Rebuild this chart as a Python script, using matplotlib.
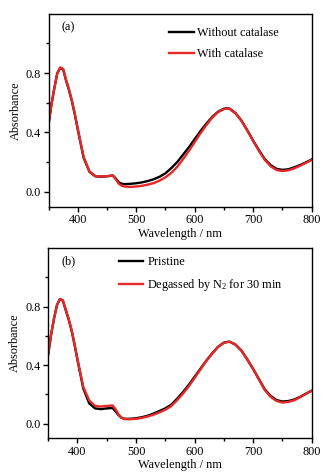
import matplotlib
matplotlib.use("Agg")
import matplotlib.pyplot as plt
from matplotlib.ticker import MultipleLocator

plt.rcParams["font.family"] = ["Liberation Serif", "DejaVu Serif"]
plt.rcParams["mathtext.fontset"] = "custom"
plt.rcParams["mathtext.rm"] = "Liberation Serif"
plt.rcParams["mathtext.it"] = "Liberation Serif:italic"
plt.rcParams["font.size"] = 8.8

# Wavelength grid (nm)
wl = [350, 355, 360, 365, 370, 375, 380, 385, 390, 395, 400, 410, 420, 430,
      440, 450, 460, 465, 470, 475, 480, 490, 500, 510, 520, 530, 540, 550,
      560, 570, 580, 590, 600, 610, 620, 630, 640, 650, 655, 660, 670, 680,
      690, 700, 710, 720, 730, 740, 750, 760, 770, 780, 790, 800]

# (a) without / with catalase
a_without = [0.455, 0.59, 0.70, 0.80, 0.835, 0.825, 0.75, 0.685, 0.61, 0.52,
             0.42, 0.23, 0.135, 0.105, 0.102, 0.105, 0.11, 0.09, 0.065, 0.055,
             0.052, 0.054, 0.058, 0.064, 0.073, 0.085, 0.102, 0.125, 0.16, 0.20,
             0.25, 0.30, 0.355, 0.41, 0.46, 0.505, 0.54, 0.56, 0.563, 0.56,
             0.53, 0.48, 0.415, 0.345, 0.28, 0.22, 0.18, 0.155, 0.148, 0.152,
             0.165, 0.18, 0.198, 0.218]
a_with = [0.455, 0.59, 0.70, 0.80, 0.838, 0.828, 0.755, 0.69, 0.615, 0.525,
          0.425, 0.235, 0.138, 0.106, 0.103, 0.106, 0.11, 0.085, 0.055, 0.042,
          0.036, 0.033, 0.036, 0.041, 0.049, 0.059, 0.076, 0.098, 0.128, 0.168,
          0.22, 0.275, 0.335, 0.395, 0.45, 0.50, 0.537, 0.558, 0.561, 0.558,
          0.528, 0.478, 0.413, 0.343, 0.275, 0.215, 0.172, 0.147, 0.14, 0.145,
          0.158, 0.175, 0.195, 0.215]

# (b) pristine / degassed by N2
b_pristine = [0.475, 0.61, 0.72, 0.81, 0.85, 0.84, 0.775, 0.71, 0.635, 0.54,
              0.435, 0.24, 0.14, 0.105, 0.10, 0.105, 0.108, 0.085, 0.06, 0.042,
              0.034, 0.034, 0.038, 0.045, 0.055, 0.07, 0.087, 0.105, 0.13, 0.17,
              0.215, 0.265, 0.32, 0.375, 0.43, 0.48, 0.525, 0.553, 0.558, 0.56,
              0.54, 0.50, 0.44, 0.375, 0.305, 0.235, 0.19, 0.162, 0.152, 0.155,
              0.165, 0.183, 0.205, 0.225]
b_degassed = [0.475, 0.61, 0.72, 0.81, 0.852, 0.842, 0.778, 0.715, 0.64, 0.545,
              0.44, 0.25, 0.16, 0.122, 0.118, 0.122, 0.125, 0.10, 0.065, 0.042,
              0.032, 0.031, 0.034, 0.04, 0.05, 0.062, 0.078, 0.096, 0.12, 0.16,
              0.205, 0.255, 0.312, 0.37, 0.428, 0.478, 0.523, 0.552, 0.557, 0.559,
              0.539, 0.499, 0.439, 0.373, 0.302, 0.23, 0.184, 0.156, 0.145, 0.149,
              0.16, 0.18, 0.203, 0.225]

red = "#e62828"

fig = plt.figure(figsize=(3.28, 4.73), dpi=100)
ax1 = fig.add_axes([0.148, 0.563, 0.802, 0.408])
ax2 = fig.add_axes([0.147, 0.073, 0.803, 0.403])

panels = [
    (ax1, a_without, a_with, "Without catalase", "With catalase", "(a)", 0.445, 0.95),
    (ax2, b_pristine, b_degassed, "Pristine", "Degassed by N$_2$ for 30 min", "(b)", 0.255, 0.975),
]

for ax, y1, y2, lab1, lab2, tag, lx, ly in panels:
    ax.plot(wl, y1, color="black", lw=1.7, label=lab1)
    ax.plot(wl, y2, color=red, lw=1.7, label=lab2)
    ax.set_xlim(350, 800)
    ax.set_ylim(-0.1, 1.2)
    ax.xaxis.set_major_locator(MultipleLocator(100))
    ax.xaxis.set_minor_locator(MultipleLocator(50))
    ax.set_yticks([0.0, 0.4, 0.8])
    ax.set_yticks([0.2, 0.6, 1.0], minor=True)
    ax.tick_params(which="major", direction="out", length=3.5, width=1, pad=2)
    ax.tick_params(which="minor", direction="out", length=2, width=1)
    for s in ax.spines.values():
        s.set_linewidth(1)
    ax.set_xlabel("Wavelength / nm", labelpad=1)
    ax.set_ylabel("Absorbance", labelpad=3)
    ax.text(0.05, 0.93, tag, transform=ax.transAxes, va="center", ha="left")
    ax.legend(loc="upper left", bbox_to_anchor=(lx, ly), frameon=False,
              handlelength=2.0, handletextpad=0.3, labelspacing=0.72,
              borderaxespad=0, borderpad=0.3)

fig.savefig("out.png", dpi=100)
